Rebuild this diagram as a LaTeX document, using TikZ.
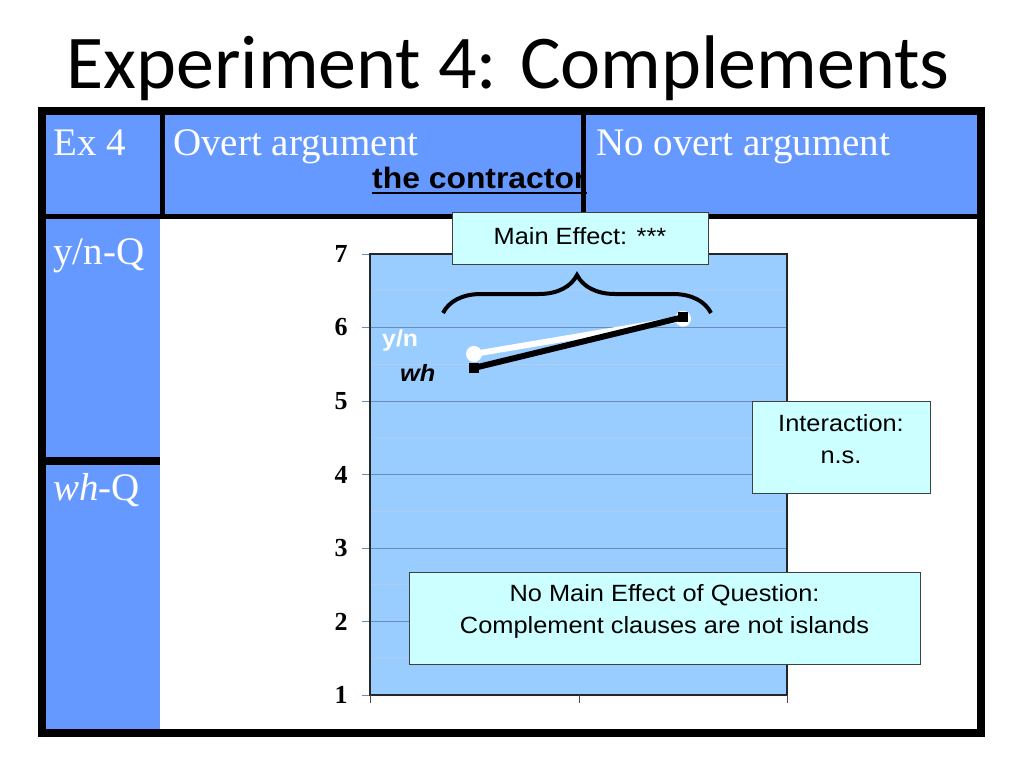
\documentclass[tikz,border=0pt]{standalone}
\usepackage{fontspec}
\setmainfont{Liberation Serif}
\setsansfont[FakeStretch=1.08]{Liberation Sans}
\newfontfamily\titlefont{Carlito}
\usepackage{tikz}
\usetikzlibrary{decorations.pathreplacing}
\definecolor{headblue}{RGB}{102, 153, 255}
\definecolor{plotblue}{RGB}{153, 204, 255}
\definecolor{notecyan}{RGB}{204, 255, 255}
\definecolor{gridmajor}{RGB}{105, 140, 185}
\definecolor{gridminor}{RGB}{175, 205, 240}
\newcommand{\valy}[1]{254+(7-#1)*73.5}

\begin{document}
\begin{tikzpicture}[x=1pt, y=-1pt, every node/.style={inner sep=0pt},
    outerrule/.style={line width=8pt},
    tablerule/.style={line width=5pt},
    headtext/.style={font=\fontsize{39}{44}\selectfont, text=white, anchor=base west},
    notebox/.style={draw=black!75, fill=notecyan, line width=0.9pt, anchor=north west},
    notetext/.style={font=\sffamily\fontsize{23.5}{31.5}\selectfont, align=center, anchor=base},
    ticklabel/.style={font=\bfseries\fontsize{26}{28}\selectfont},
    ynline/.style={white, line width=6pt},
    whline/.style={black, line width=6pt}]
    % Page
    \fill[white] (0, 0) rectangle (1024, 768);
    \useasboundingbox (0, 0) rectangle (1024, 768);
    
    % Title
    \node[font=\titlefont\fontsize{76}{80}\selectfont, anchor=base] (title) at (508, 88) {Experiment 4: Complements};
    
    % Table cells
    \fill[headblue] (42, 111) rectangle (981, 216);
    \fill[headblue] (42, 216) rectangle (160, 733);
    \node[headtext] (exfour) at (53, 155) {Ex 4};
    \node[headtext] (overt) at (173, 155) {Overt argument};
    \node[headtext] (noovert) at (596, 155) {No overt argument};
    \node[headtext] (ynq) at (53, 264) {y/n-Q};
    \node[headtext] (whq) at (53, 500) {\textit{wh}-Q};
    \node[font=\sffamily\bfseries\fontsize{29.5}{32}\selectfont, anchor=base west] (contr) at (372, 188) {the contractor};
    \draw[line width=2.6pt] ([yshift=-5pt]contr.base west) -- ([yshift=-5pt]contr.base east);
    
    % Table rules
    \draw[outerrule] (42, 111) rectangle (981, 733);
    \draw[tablerule] (42, 216) -- (981, 216);
    \draw[tablerule] (162, 111) -- (162, 216);
    \draw[tablerule] (583, 111) -- (583, 216);
    \draw[outerrule] (42, 461) -- (160, 461);
    
    % Plot area and grid
    \fill[plotblue] (370, 254) rectangle (787, 695);
    \foreach \v in {1.5, 2.5, 3.5, 4.5, 5.5, 6.5} {
        \draw[gridminor, line width=1pt] (372, {\valy{\v}}) -- (786, {\valy{\v}});
    }
    \foreach \v in {1, ..., 7} {
        \draw[gridmajor, line width=1pt] (362, {\valy{\v}}) -- (787, {\valy{\v}});
        \node[ticklabel] (tick\v) at (341, {\valy{\v}}) {\v};
    }
    \draw[black!85, line width=1.2pt] (370, 254) rectangle (787, 695);
    \foreach \x in {370, 579, 787} {
        \draw[black!70, line width=0.8pt] (\x, 695) -- (\x, 703);
    }
    
    % Data
    \coordinate (yn1) at (474, {\valy{5.64}});
    \coordinate (yn2) at (683, {\valy{6.12}});
    \coordinate (wh1) at (474, {\valy{5.45}});
    \coordinate (wh2) at (683, {\valy{6.14}});
    \draw[ynline] (yn1) -- (yn2);
    \node[circle, fill=white, minimum size=16pt] (yn1m) at (yn1) {};
    \node[circle, fill=white, minimum size=16pt] (yn2m) at (yn2) {};
    \draw[whline] (wh1) -- (wh2);
    \node[fill=black, minimum size=10pt] (wh1m) at (wh1) {};
    \node[fill=black, minimum size=10pt] (wh2m) at (wh2) {};
    \node[font=\sffamily\bfseries\fontsize{23}{25}\selectfont, text=white, anchor=base west] (ynlab) at (382, 346) {y/n};
    \node[font=\sffamily\bfseries\itshape\fontsize{23.5}{25}\selectfont, anchor=base west] (whlab) at (400, 381) {wh};
    
    % Brace
    \draw[decorate, decoration={brace, amplitude=38pt}, line width=4pt] (443, 313) -- (711, 313);
    
    % Notes
    \node[notebox, minimum width=256pt, minimum height=52pt] (mainbox) at (452, 212) {};
    \node[notetext] (maintext) at (580, 244) {Main Effect: ***};
    \node[notebox, minimum width=178pt, minimum height=92pt] (interbox) at (752, 401) {};
    \node[notetext] (intertext) at (841, 463) {Interaction:\\n.s.};
    \node[notebox, minimum width=511pt, minimum height=92pt] (qbox) at (409, 572) {};
    \node[notetext] (qtext) at (664.5, 633) {No Main Effect of Question:\\Complement clauses are not islands};
\end{tikzpicture}
\end{document}
